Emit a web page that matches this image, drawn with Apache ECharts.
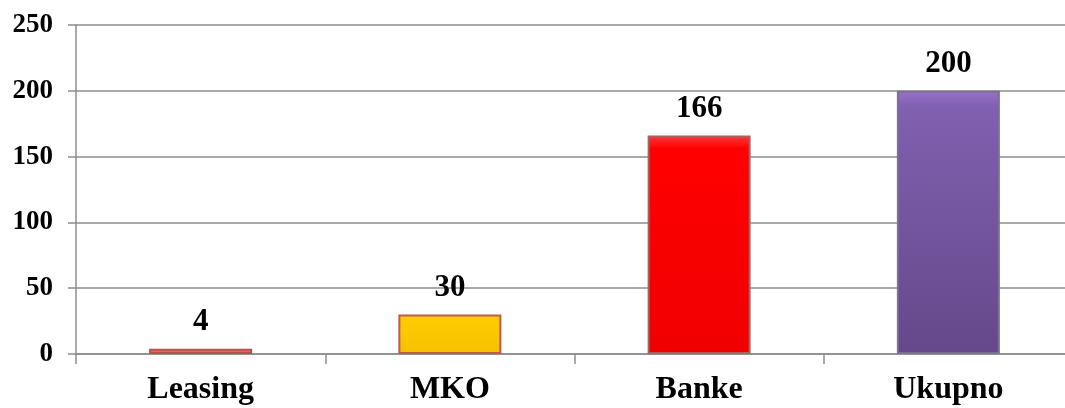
<!DOCTYPE html>
<html>
<head>
<meta charset="utf-8">
<script src="https://cdn.jsdelivr.net/npm/echarts@6/dist/echarts.min.js"></script>
<style>
html,body{margin:0;padding:0;background:#fff;}
#chart{width:1065px;height:408px;}
</style>
</head>
<body>
<div id="chart"></div>
<script>
const categories = ['Leasing', 'MKO', 'Banke', 'Ukupno'];
const values = [4, 30, 166, 200];
const yTicks = [0, 50, 100, 150, 200, 250];

const fills = [
  { top: '#ff8a8a', mid: '#f46868', bottom: '#e85a5a', border: '#b9504e' },
  { top: '#ffe24a', mid: '#ffcc00', bottom: '#f5c000', border: '#c0584d' },
  { top: '#ff3a3a', mid: '#ff0000', bottom: '#f00000', border: '#a86060' },
  { top: '#9a72cc', mid: '#8060b0', bottom: '#65488a', border: '#7c7090' }
];

const chart = echarts.init(document.getElementById('chart'), null, { renderer: 'canvas' });
const font = "'Liberation Serif', 'Times New Roman', serif";

chart.setOption({
  animation: false,
  backgroundColor: '#ffffff',
  grid: { left: 76, right: -8, top: 25, bottom: 54, containLabel: false, outerBoundsMode: 'none' },
  xAxis: {
    type: 'category',
    data: categories,
    boundaryGap: true,
    axisLine: { show: true, lineStyle: { color: '#8c8c8c', width: 1.5 } },
    axisTick: { show: true, length: 10, alignWithLabel: false, lineStyle: { color: '#8c8c8c', width: 1.5 } },
    axisLabel: { color: '#000', fontFamily: font, fontWeight: 'bold', fontSize: 32, margin: 20 }
  },
  yAxis: {
    type: 'value',
    min: yTicks[0],
    max: yTicks[yTicks.length - 1],
    interval: 50,
    axisLine: { show: true, lineStyle: { color: '#8c8c8c', width: 1.5 } },
    axisTick: { show: true, length: 8, inside: false, lineStyle: { color: '#8c8c8c', width: 1.5 } },
    splitLine: { show: true, lineStyle: { color: '#8c8c8c', width: 1.5 } },
    axisLabel: { color: '#000', fontFamily: font, fontWeight: 'bold', fontSize: 27, margin: 23 }
  },
  series: [{
    type: 'bar',
    barWidth: 103,
    data: values.map((v, i) => ({
      value: v,
      itemStyle: {
        color: new echarts.graphic.LinearGradient(0, 0, 0, 1, [
          { offset: 0, color: fills[i].top },
          { offset: 0.06, color: fills[i].mid },
          { offset: 1, color: fills[i].bottom }
        ]),
        borderColor: fills[i].border,
        borderWidth: 2
      }
    })),
    label: {
      show: true,
      position: 'top',
      distance: 11,
      color: '#000',
      fontFamily: font,
      fontWeight: 'bold',
      fontSize: 31
    }
  }]
});
</script>
</body>
</html>
